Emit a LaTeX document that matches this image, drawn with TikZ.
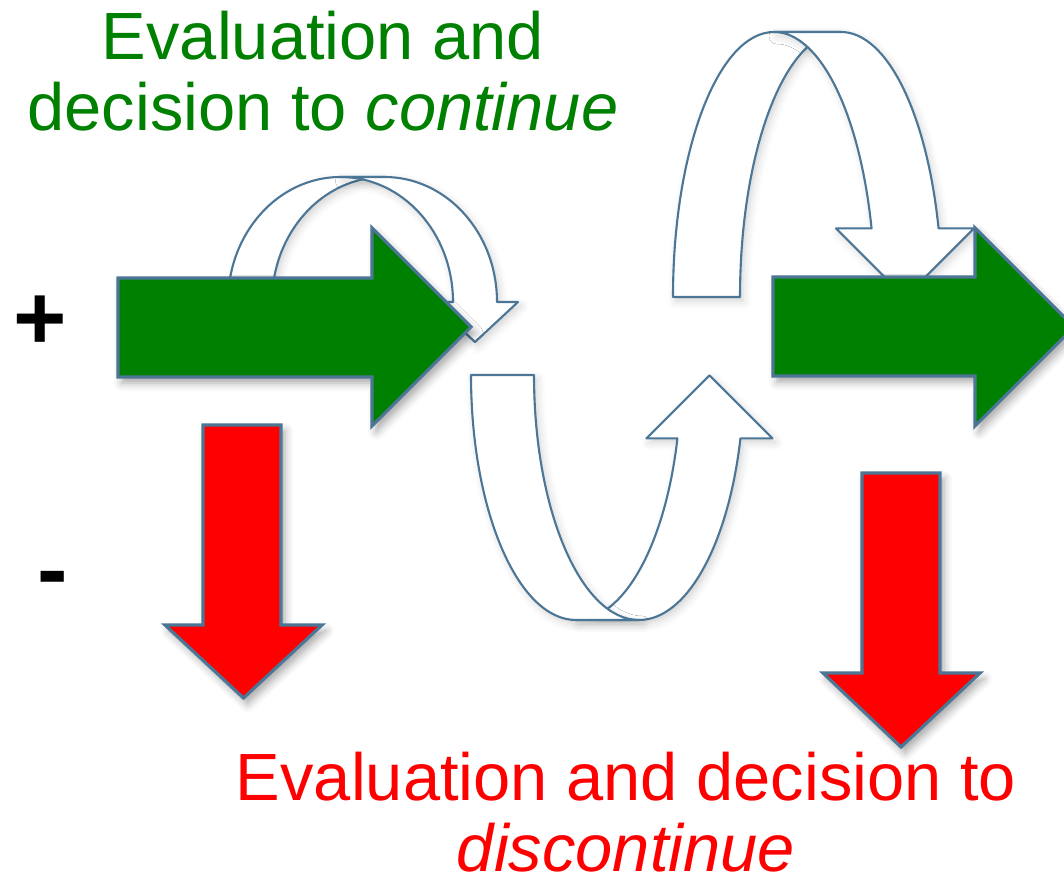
\documentclass[tikz,border=0pt]{standalone}
\usepackage{fontspec}
\setmainfont{Liberation Sans}
\usetikzlibrary{shadows.blur}

\definecolor{edgeblue}{RGB}{76,118,150}
\definecolor{gogreen}{RGB}{0,128,0}
\definecolor{stopred}{RGB}{255,0,0}

\begin{document}
\begin{tikzpicture}[x=0.01cm,y=-0.01cm,
    blockarrow/.style={draw=edgeblue,line width=0.9pt,
        blur shadow={shadow xshift=0.4mm,shadow yshift=-0.6mm,shadow blur radius=0.8mm,shadow opacity=35}},
    ribbon/.style={draw=edgeblue,line width=0.6pt,line join=round,fill=white,
        blur shadow={shadow xshift=0.3mm,shadow yshift=-0.4mm,shadow blur radius=0.8mm,shadow opacity=18}},
    headline/.style={font=\fontsize{19}{20.3}\selectfont,align=center,inner sep=0pt,anchor=north},
    signtext/.style={font=\fontsize{26}{30}\selectfont\bfseries,inner sep=0pt}]
    \path[use as bounding box,clip] (0,0) rectangle (1064,877);

    % over-the-top arrow behind the first green arrow
    \path[ribbon] (228,302) arc[start angle=180,end angle=270,x radius=112.5,y radius=125]
        -- (384.5,177) arc[start angle=270,end angle=180,x radius=112.5,y radius=125] -- cycle;
    \path[ribbon] (340.5,177) arc[start angle=270,end angle=360,x radius=112.5,y radius=125]
        -- ++(-21,0) -- ++(43,40) -- ++(43,-40) -- ++(-21,0)
        arc[start angle=360,end angle=270,x radius=112.5,y radius=125] -- cycle;

    % tall arrow coming down onto the second green arrow
    \path[ribbon] (673,297) arc[start angle=180,end angle=270,x radius=101,y radius=265]
        -- (841,32) arc[start angle=270,end angle=180,x radius=101,y radius=265] -- cycle;
    \path[ribbon] (774,32) arc[start angle=270,end angle=345,x radius=101,y radius=265]
        -- ++(-35.5,0) -- ++(69,69) -- ++(69,-69) -- ++(-35.5,0)
        arc[start angle=345,end angle=270,x radius=101,y radius=265] -- cycle;

    % U-turn between the two
    \path[ribbon] (576,620) arc[start angle=90,end angle=15,x radius=105,y radius=245]
        -- ++(-31,0) -- ++(63,-63) -- ++(63,63) -- ++(-32,0)
        arc[start angle=15,end angle=90,x radius=105,y radius=245] -- cycle;
    \path[ribbon] (471,375) arc[start angle=180,end angle=90,x radius=105,y radius=245]
        -- (639,620) arc[start angle=90,end angle=180,x radius=105,y radius=245] -- cycle;

    % green arrows
    \path[blockarrow,fill=gogreen] (118,278) -- (372,278) -- (372,228) -- (471,327)
        -- (372,426) -- (372,377) -- (118,377) -- cycle;
    \path[blockarrow,fill=gogreen] (773,277) -- (975,277) -- (975,228) -- (1074,327)
        -- (975,426) -- (975,376) -- (773,376) -- cycle;

    % red arrows
    \path[blockarrow,fill=stopred] (203,425) -- (281,425) -- (281,625) -- (322,625)
        -- (243.5,698) -- (165,625) -- (203,625) -- cycle;
    \path[blockarrow,fill=stopred] (862,473) -- (940,473) -- (940,673) -- (980,673)
        -- (901,747) -- (823,673) -- (862,673) -- cycle;

    \node[headline,text=gogreen] (contlabel) at (323,10) {Evaluation and\\decision to \textit{continue}};
    \node[headline,text=stopred] (disclabel) at (626,751) {Evaluation and decision to\\\textit{discontinue}};

    \node[signtext] (plus) at (40,323) {+};
    \node[signtext] (minus) at (53,586) {-};
\end{tikzpicture}
\end{document}
